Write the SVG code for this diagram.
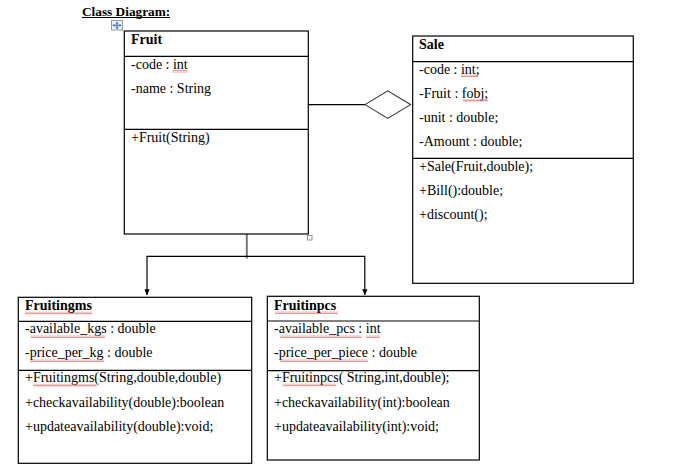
<svg xmlns="http://www.w3.org/2000/svg" width="679" height="472" viewBox="0 0 679 472">
<style>
  text { font-family: "Liberation Serif", "Times New Roman", serif; font-size: 14px; fill: #000; }
  .b { font-weight: bold; }
  .box { fill: #fff; stroke: #000; stroke-width: 1.2; }
  .sep { stroke: #000; stroke-width: 1.2; }
  .line { stroke: #000; stroke-width: 1.2; fill: none; }
  .wavy { fill: url(#wave); }
</style>
<defs>
  <pattern id="wave" patternUnits="userSpaceOnUse" width="4" height="3">
    <polyline points="0,2.5 1,0.5 2,2.5 3,0.5 4,2.5" fill="none" stroke="#e05050" stroke-width="0.6"/>
  </pattern>
</defs>
<rect width="679" height="472" fill="#fff"/>

<g id="title">
  <text x="82" y="15.5" class="b" style="font-size:13.3px">Class Diagram:</text>
  <line x1="82" y1="17.5" x2="170" y2="17.5" stroke="#000" stroke-width="1"/>
  <rect x="111.5" y="20.5" width="11" height="9.5" fill="#eef2f8" stroke="#9a9a9a" stroke-width="1"/>
  <g stroke="#3a6fc4" stroke-width="1" fill="none">
    <line x1="117" y1="22" x2="117" y2="29"/>
    <line x1="113" y1="25.3" x2="121" y2="25.3"/>
  </g>
  <g fill="#3a6fc4">
    <path d="M117,21.5 l-1.6,2 h3.2 z"/>
    <path d="M117,29 l-1.6,-2 h3.2 z"/>
    <path d="M112.5,25.3 l2,-1.6 v3.2 z"/>
    <path d="M121.5,25.3 l-2,-1.6 v3.2 z"/>
  </g>
</g>

<g id="connectors">
  <line class="line" x1="308.3" y1="104.6" x2="365" y2="104.6"/>
  <path d="M365,104.6 L387.7,90.8 L410.5,104.6 L387.7,118.4 Z" fill="#fff" stroke="#333" stroke-width="1.1"/>
  <line x1="246.8" y1="226" x2="246.8" y2="258.5" stroke="#777" stroke-width="2"/>
  <path class="line" d="M147,295 L147,256.3 L364.8,256.3 L364.8,295"/>
  <path d="M144.4,289.3 L149.6,289.3 L147,295.3 Z" fill="#000"/>
  <path d="M362.2,289.3 L367.4,289.3 L364.8,295.3 Z" fill="#000"/>
</g>

<g id="fruit">
  <rect class="box" x="124.3" y="31" width="184" height="203"/>
  <line class="sep" x1="124.3" y1="56.3" x2="308.3" y2="56.3"/>
  <line class="sep" x1="124.3" y1="129.3" x2="308.3" y2="129.3"/>
  <rect x="307.5" y="235.5" width="4.5" height="4.5" fill="#fff" stroke="#888" stroke-width="0.9"/>
  <text x="131" y="43.5" class="b">Fruit</text>
  <text x="131" y="69">-code : int</text>
  <rect class="wavy" x="172.5" y="70" width="15" height="3"/>
  <text x="131" y="93">-name : String</text>
  <text x="131" y="142">+Fruit(String)</text>
</g>

<g id="sale">
  <rect class="box" x="412.7" y="36" width="220.6" height="247.3"/>
  <line class="sep" x1="412.7" y1="61.7" x2="633.3" y2="61.7"/>
  <line class="sep" x1="412.7" y1="158.3" x2="633.3" y2="158.3"/>
  <text x="419" y="48.5" class="b">Sale</text>
  <text x="419" y="73.5">-code : int;</text>
  <rect class="wavy" x="461" y="74.5" width="17" height="3"/>
  <text x="419" y="97.7">-Fruit : fobj;</text>
  <rect class="wavy" x="462.7" y="99" width="25" height="3"/>
  <text x="419" y="122.3">-unit : double;</text>
  <text x="419" y="146">-Amount : double;</text>
  <text x="419" y="171">+Sale(Fruit,double);</text>
  <text x="419" y="195">+Bill():double;</text>
  <text x="419" y="219">+discount();</text>
</g>

<g id="fruitingms">
  <rect class="box" x="18.3" y="297.3" width="233.4" height="166"/>
  <line class="sep" x1="18.3" y1="321.3" x2="251.7" y2="321.3"/>
  <line class="sep" x1="18.3" y1="370.3" x2="251.7" y2="370.3"/>
  <text x="25" y="310" class="b">Fruitingms</text>
  <rect class="wavy" x="25" y="311.5" width="67" height="3"/>
  <text x="25" y="333.3">-available_kgs : double</text>
  <rect class="wavy" x="30.7" y="335" width="74.3" height="3"/>
  <text x="25" y="357.3">-price_per_kg : double</text>
  <rect class="wavy" x="30" y="359" width="74" height="3"/>
  <text x="25" y="382.3">+Fruitingms(String,double,double)</text>
  <rect class="wavy" x="33.3" y="384" width="63.4" height="3"/>
  <text x="25" y="406.7">+checkavailability(double):boolean</text>
  <text x="25" y="430.7">+updateavailability(double):void;</text>
</g>

<g id="fruitinpcs">
  <rect class="box" x="267.3" y="296.3" width="212" height="163.7"/>
  <line class="sep" x1="267.3" y1="321" x2="479.3" y2="321"/>
  <line class="sep" x1="267.3" y1="370.7" x2="479.3" y2="370.7"/>
  <text x="274" y="309.5" class="b">Fruitinpcs</text>
  <rect class="wavy" x="275" y="311" width="63" height="3"/>
  <text x="274" y="333.3">-available_pcs : int</text>
  <rect class="wavy" x="280" y="335" width="81.7" height="3"/>
  <rect class="wavy" x="366" y="335" width="14" height="3"/>
  <text x="274" y="357.3">-price_per_piece : double</text>
  <rect class="wavy" x="280" y="359" width="88" height="3"/>
  <text x="274" y="381.7">+Fruitinpcs( String,int,double);</text>
  <rect class="wavy" x="282.7" y="383.5" width="53.3" height="3"/>
  <text x="274" y="406.7">+checkavailability(int):boolean</text>
  <text x="274" y="430.7">+updateavailability(int):void;</text>
</g>
</svg>
